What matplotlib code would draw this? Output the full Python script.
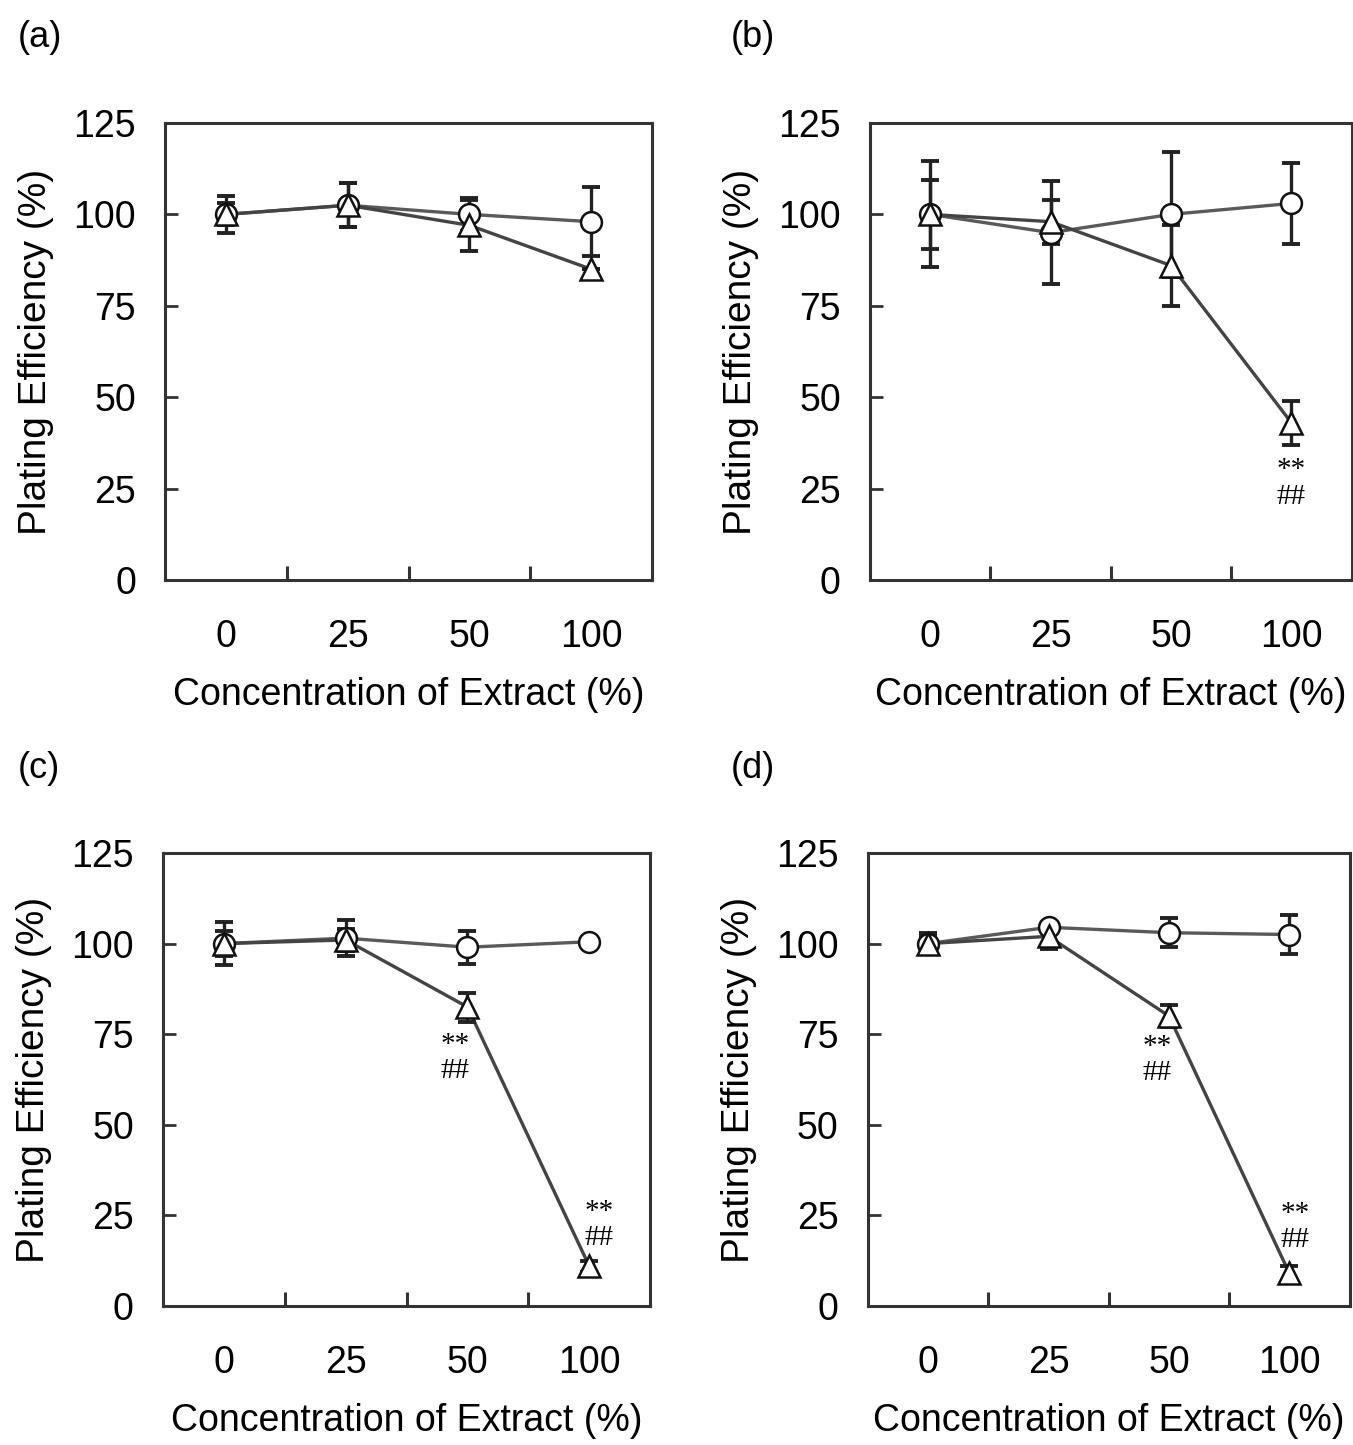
import matplotlib
matplotlib.use('Agg')
import matplotlib.pyplot as plt

plt.rcParams['font.family'] = ['Liberation Sans', 'DejaVu Sans']

# Categories (extract concentration)
conc_labels = ['0', '25', '50', '100']
xpos = [0, 1, 2, 3]

# Circle series (control) per panel: means and SDs
circle_mean = {
    'a': [100, 102.5, 100, 98],
    'b': [100, 95, 100, 103],
    'c': [100, 101.5, 99, 100.5],
    'd': [100, 104.5, 103, 102.5],
}
circle_err = {
    'a': [5, 6, 4.5, 9.5],
    'b': [14.5, 14, 17, 11],
    'c': [6, 5, 4.5, 0],
    'd': [3, 1, 4, 5.5],
}

# Triangle series (treated) per panel
tri_mean = {
    'a': [100, 102.5, 97, 85],
    'b': [100, 98, 86, 43],
    'c': [100, 101, 82.5, 11],
    'd': [100, 102, 80, 9],
}
tri_err = {
    'a': [3, 6, 7, 0],
    'b': [9.5, 6, 11, 6],
    'c': [3.5, 3, 4, 1.5],
    'd': [2, 3.5, 3, 2],
}

# Significance marks: panel -> list of (x index, y value of "**")
sig_marks = {
    'a': [],
    'b': [(3, 30)],
    'c': [(2, 72), (3, 26)],
    'd': [(2, 71.5), (3, 25.5)],
}
sig_dx = {'a': [], 'b': [0.0], 'c': [-0.1, 0.08], 'd': [-0.1, 0.05]}

panels = ['a', 'b', 'c', 'd']
yticks = [0, 25, 50, 75, 100, 125]

# axes rectangles in figure fraction
rects = {
    'a': [0.122, 0.5986, 0.360, 0.3163],
    'b': [0.643, 0.5986, 0.356, 0.3163],
    'c': [0.1205, 0.0962, 0.360, 0.3135],
    'd': [0.6415, 0.0962, 0.356, 0.3135],
}
label_pos = {'a': (0.013, 0.974), 'b': (0.540, 0.974), 'c': (0.013, 0.468), 'd': (0.540, 0.468)}

fig = plt.figure(figsize=(13.53, 14.45), dpi=100)

for p in panels:
    ax = fig.add_axes(rects[p])
    ax.plot(xpos, circle_mean[p], '-', color='#5a5a5a', lw=2.4, zorder=2)
    ax.plot(xpos, tri_mean[p], '-', color='#444444', lw=2.4, zorder=2)
    ax.errorbar(xpos, circle_mean[p], yerr=circle_err[p], fmt='none', ecolor='#222222',
                elinewidth=2.4, capsize=6.5, capthick=2.8, zorder=3)
    ax.errorbar(xpos, tri_mean[p], yerr=tri_err[p], fmt='none', ecolor='#222222',
                elinewidth=2.4, capsize=6.5, capthick=2.8, zorder=3)
    ax.plot(xpos, circle_mean[p], 'o', ms=15, mfc='white', mec='#111111', mew=1.8, ls='none', zorder=4)
    ax.plot(xpos, tri_mean[p], '^', ms=16, mfc='white', mec='#111111', mew=1.8, ls='none', zorder=5)

    for (xi, yv), dx in zip(sig_marks[p], sig_dx[p]):
        ax.text(xi + dx, yv, '**', ha='center', va='center', fontsize=21,
                family='Liberation Serif', zorder=6)
        ax.text(xi + dx, yv - 7.2, '##', ha='center', va='center', fontsize=21,
                family='Liberation Serif', zorder=6)

    ax.set_xlim(-0.5, 3.5)
    ax.set_ylim(0, 125)
    ax.set_xticks(xpos)
    ax.set_xticklabels(conc_labels)
    ax.set_xticks([0.5, 1.5, 2.5], minor=True)
    ax.tick_params(axis='x', which='major', length=0, pad=28, labelsize=27)
    ax.tick_params(axis='x', which='minor', direction='in', length=10, width=2.2, color='#333333')
    ax.set_yticks(yticks)
    ax.tick_params(axis='y', direction='in', length=9, width=2, pad=21, labelsize=27, color='#333333')
    for s in ax.spines.values():
        s.set_linewidth(2.2)
        s.set_color('#333333')
    ax.set_xlabel('Concentration of Extract (%)', fontsize=27, labelpad=16)
    ax.set_ylabel('Plating Efficiency (%)', fontsize=28, labelpad=14)
    fig.text(label_pos[p][0], label_pos[p][1], '(%s)' % p, fontsize=26, ha='left', va='center')

fig.savefig('out.png', dpi=100)
